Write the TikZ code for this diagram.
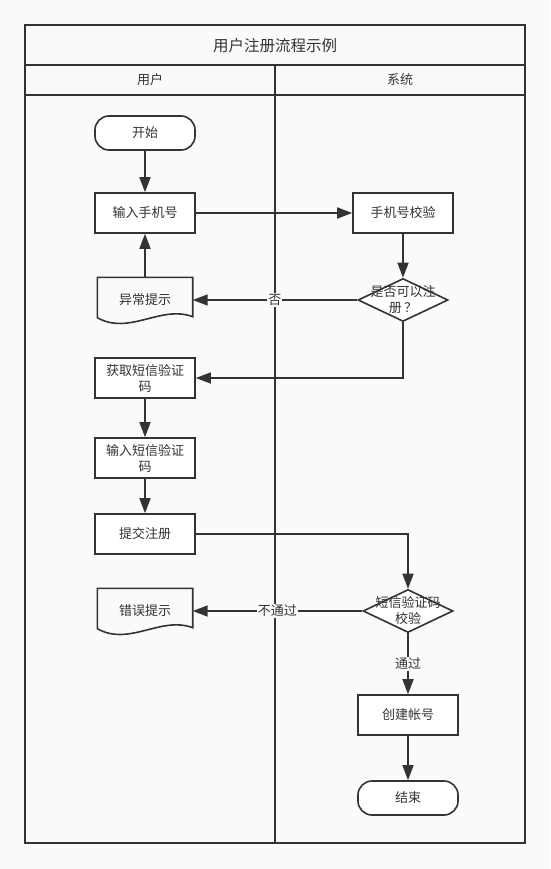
\documentclass[tikz,border=0pt]{standalone}
\usepackage{fontspec}
\setmainfont{Noto Sans CJK SC}
\usetikzlibrary{shapes, arrows.meta, positioning, calc}

\definecolor{lane}{HTML}{333333}
\definecolor{paper}{HTML}{FAFAFA}

\tikzset{
  frame/.style={draw=lane, line width=1.8pt},
  outline/.style={draw=lane, line width=1.6pt},
  txt/.style={text=lane, font=\fontsize{13}{16}\selectfont},
  box/.style={outline, txt, fill=white, rectangle, minimum width=100pt, minimum height=40pt, inner sep=1pt, align=center},
  term/.style={box, rounded corners=14pt, minimum height=34pt},
  doc/.style={txt, rectangle, draw=none, minimum width=95pt, minimum height=45pt, inner sep=0pt},
  decide/.style={outline, fill=white, diamond, minimum width=90pt, minimum height=43pt, inner sep=0pt},
  flow/.style={draw=lane, line width=1.6pt, -{Triangle[length=15pt,width=11pt]}},
  tag/.style={txt, fill=paper, inner sep=1pt},
  title/.style={text=lane, font=\fontsize{15.5}{18}\selectfont},
  lanehead/.style={text=lane, font=\fontsize{13}{15}\selectfont}
}

\begin{document}
\begin{tikzpicture}[x=1pt, y=-1pt]
  \def\docpath#1{\draw[outline] ([yshift=5pt]#1.south west) -- (#1.north west) -- (#1.north east) -- ([yshift=6pt]#1.south east)
    .. controls ([shift={(-32pt,18pt)}]#1.south east) and ([shift={(32pt,-13pt)}]#1.south west) .. ([yshift=5pt]#1.south west) -- cycle;}

  % background and swimlanes
  \fill[paper] (0,0) rectangle (550,869);
  \draw[frame] (25,25) rectangle (525,843);
  \draw[frame] (25,65) -- (525,65);
  \draw[frame] (25,95) -- (525,95);
  \draw[frame] (275,65) -- (275,843);
  \node[title] (head) at (275,46) {用户注册流程示例};
  \node[lanehead] (laneuser) at (150,80) {用户};
  \node[lanehead] (lanesys) at (400,80) {系统};

  % user lane
  \node[term] (start) at (145,133) {开始};
  \node[box] (inputphone) at (145,213) {输入手机号};
  \node[doc] (phonewarn) at (145,300) {异常提示};
  \docpath{phonewarn}
  \node[box] (getcode) at (145,378) {获取短信验证\\码};
  \node[box] (inputcode) at (145,458) {输入短信验证\\码};
  \node[box] (submit) at (145,534) {提交注册};
  \node[doc] (codewarn) at (145,611) {错误提示};
  \docpath{codewarn}

  % system lane
  \node[box] (checkphone) at (403,213) {手机号校验};
  \node[decide, label={[txt, align=center, font=\fontsize{13}{16}\selectfont]center:是否可以注\\册\,？}] (canreg) at (403,300) {};
  \node[decide, label={[txt, align=center, font=\fontsize{13}{16}\selectfont]center:短信验证码\\校验}] (checkcode) at (408,611) {};
  \node[box] (create) at (408,715) {创建帐号};
  \node[term] (finish) at (408,798) {结束};

  % connectors
  \draw[flow] (start) -- (inputphone);
  \draw[flow] (inputphone) -- (checkphone);
  \draw[flow] (checkphone) -- (canreg);
  \draw[flow] (canreg.west) -- node[tag] {否} (phonewarn.east);
  \draw[flow] (phonewarn) -- (inputphone);
  \draw[flow] (canreg.south) |- (getcode.east);
  \draw[flow] (getcode) -- (inputcode);
  \draw[flow] (inputcode) -- (submit);
  \draw[flow] (submit.east) -| (checkcode.north);
  \draw[flow] (checkcode.west) -- node[tag] {不通过} (codewarn.east);
  \draw[flow] (checkcode) -- node[tag] {通过} (create);
  \draw[flow] (create) -- (finish);
\end{tikzpicture}
\end{document}
